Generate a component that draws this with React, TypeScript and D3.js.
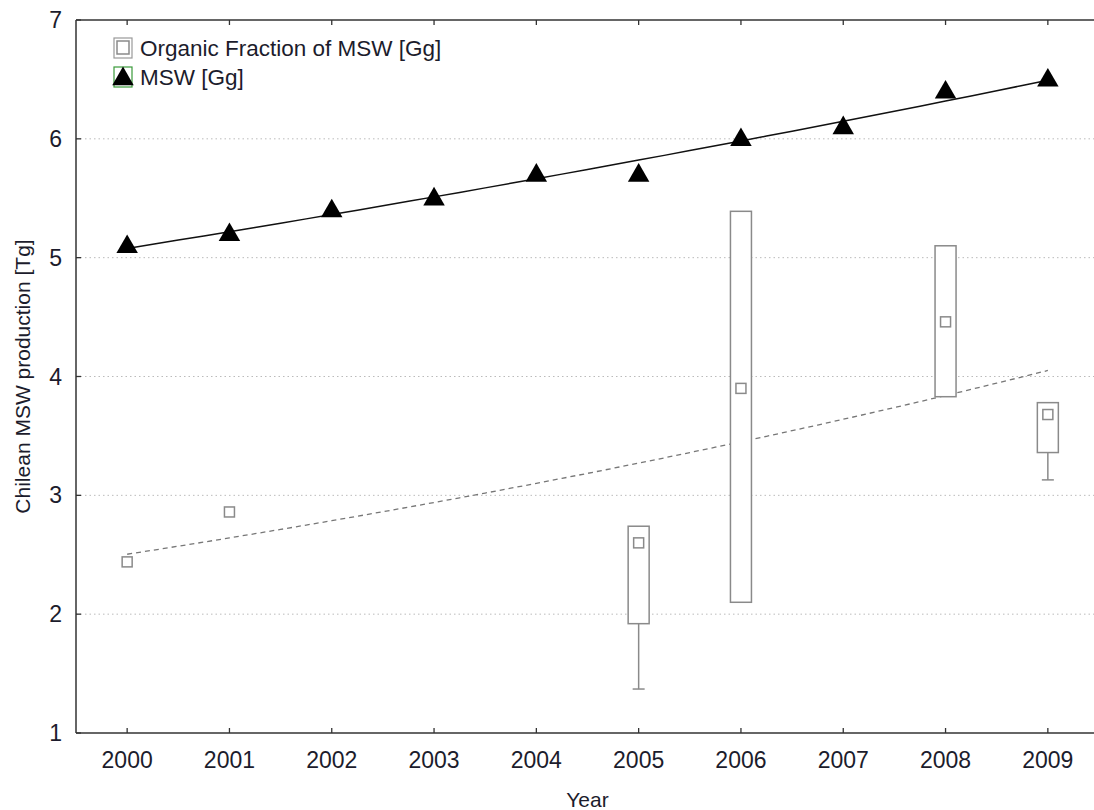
import React from 'react';
import * as d3 from 'd3';

// MSW production per year (black triangles)
const years = [2000, 2001, 2002, 2003, 2004, 2005, 2006, 2007, 2008, 2009];
const mswValues = [5.1, 5.2, 5.4, 5.5, 5.7, 5.7, 6.0, 6.1, 6.4, 6.5];

// Organic fraction: single points
const organicPointYears = [2000, 2001];
const organicPointValues = [2.44, 2.86];

// Organic fraction: box summaries
const boxYears = [2005, 2006, 2008, 2009];
const boxMeans = [2.6, 3.9, 4.46, 3.68];
const boxTops = [2.74, 5.39, 5.1, 3.78];
const boxBottoms = [1.92, 2.1, 3.83, 3.36];
const whiskerLows = [1.37, null, null, 3.13];

const yTicks = [1, 2, 3, 4, 5, 6, 7];
const gridTicks = [2, 3, 4, 5, 6];

const legendLabels = ['Organic Fraction of MSW [Gg]', 'MSW [Gg]'];

// exponential least-squares fit, y = a * exp(b * (x - x0))
function expFit(xs: number[], ys: number[]) {
  const x0 = xs[0];
  const lx = xs.map(x => x - x0);
  const ly = ys.map(y => Math.log(y));
  const mx = d3.mean(lx)!;
  const my = d3.mean(ly)!;
  const sxy = d3.sum(lx, (x, i) => (x - mx) * (ly[i] - my));
  const sxx = d3.sum(lx, x => (x - mx) * (x - mx));
  const b = sxy / sxx;
  const a = my - b * mx;
  return (x: number) => Math.exp(a + b * (x - x0));
}

const W = 1094;
const H = 810;
const margin = { top: 20, right: -5, bottom: 77, left: 76 };
const FONT = 'Liberation Sans, Arial, sans-serif';
const GRAY = '#8a8a8a';
const TXT = '#1c1c2c';

export default function App() {
  const innerW = W - margin.left - margin.right;
  const innerH = H - margin.top - margin.bottom;

  const x = d3.scaleLinear().domain([1999.5, 2009.5]).range([0, innerW]);
  const y = d3.scaleLinear().domain([1, 7]).range([innerH, 0]);

  const mswFit = expFit(years, mswValues);
  const orgX = [...organicPointYears, ...boxYears];
  const orgY = [...organicPointValues, ...boxMeans];
  const orgFit = expFit(orgX, orgY);

  const fitYears = d3.range(2000, 2009.001, 0.25);
  const line = (f: (v: number) => number) =>
    d3.line<number>().x(d => x(d)).y(d => y(f(d)))(fitYears) || '';

  const tri = d3.symbol().type(d3.symbolTriangle).size(200)() || '';
  const boxW = 21;
  const mk = 10;

  return (
    <svg width={W} height={H} style={{ position: 'absolute', left: 0, top: 0, background: '#fff' }}>
      <g transform={`translate(${margin.left},${margin.top})`} fontFamily={FONT}>
        {/* grid */}
        {gridTicks.map(t => (
          <line key={t} x1={0} x2={innerW} y1={y(t)} y2={y(t)}
            stroke="#bbb" strokeWidth={1} strokeDasharray="1.5,3" />
        ))}

        {/* organic trend */}
        <path d={line(orgFit)} fill="none" stroke="#777" strokeWidth={1.3} strokeDasharray="5,4" />

        {/* boxes */}
        {boxYears.map((yr, i) => {
          const cx = x(yr);
          const lo = whiskerLows[i];
          return (
            <g key={yr} stroke={GRAY} strokeWidth={1.5} fill="none">
              {lo !== null && (
                <>
                  <line x1={cx} x2={cx} y1={y(boxBottoms[i])} y2={y(lo)} />
                  <line x1={cx - 6} x2={cx + 6} y1={y(lo)} y2={y(lo)} />
                </>
              )}
              <rect x={cx - boxW / 2} y={y(boxTops[i])} width={boxW}
                height={y(boxBottoms[i]) - y(boxTops[i])} fill="#fff" />
              <rect x={cx - mk / 2} y={y(boxMeans[i]) - mk / 2} width={mk} height={mk} fill="#fff" />
            </g>
          );
        })}
        {organicPointYears.map((yr, i) => (
          <rect key={yr} x={x(yr) - mk / 2} y={y(organicPointValues[i]) - mk / 2}
            width={mk} height={mk} fill="#fff" stroke={GRAY} strokeWidth={1.5} />
        ))}

        {/* MSW trend + triangles */}
        <path d={line(mswFit)} fill="none" stroke="#111" strokeWidth={1.5} />
        {years.map((yr, i) => (
          <path key={yr} d={tri} transform={`translate(${x(yr)},${y(mswValues[i]) + 1})`} fill="#000" />
        ))}

        {/* frame */}
        <line x1={0} x2={innerW} y1={0} y2={0} stroke="#333" strokeWidth={1.5} />
        <line x1={0} x2={innerW} y1={innerH} y2={innerH} stroke="#333" strokeWidth={1.5} />
        <line x1={0} x2={0} y1={0} y2={innerH} stroke="#333" strokeWidth={1.5} />

        {/* x ticks */}
        {years.map(yr => (
          <g key={yr}>
            <line x1={x(yr)} x2={x(yr)} y1={innerH} y2={innerH - 5} stroke="#333" strokeWidth={1.3} />
            <line x1={x(yr)} x2={x(yr)} y1={0} y2={5} stroke="#333" strokeWidth={1.3} />
            <text x={x(yr)} y={innerH + 35} textAnchor="middle" fontSize={23} fill={TXT}>{yr}</text>
          </g>
        ))}

        {/* y ticks */}
        {yTicks.map(t => (
          <g key={t}>
            <line x1={0} x2={5} y1={y(t)} y2={y(t)} stroke="#333" strokeWidth={1.3} />
            <text x={-14} y={y(t) + 8} textAnchor="end" fontSize={23} fill={TXT}>{t}</text>
          </g>
        ))}

        {/* axis titles */}
        <text x={x(2004.5)} y={innerH + 74} textAnchor="middle" fontSize={21} fill={TXT}>Year</text>
        <text transform={`translate(${-46},${innerH / 2}) rotate(-90)`} textAnchor="middle"
          fontSize={21} fill={TXT}>Chilean MSW production [Tg]</text>

        {/* legend */}
        <g transform="translate(38,18)">
          <rect x={0} y={0} width={18} height={20} fill="#fff" stroke="#999" strokeWidth={1.2} />
          <rect x={3} y={3} width={12} height={13} fill="#fff" stroke={GRAY} strokeWidth={1.5} />
          <text x={26} y={18} fontSize={22.5} fill={TXT}>{legendLabels[0]}</text>
          <rect x={0} y={29} width={18} height={20} fill="#fff" stroke="#3a9a3a" strokeWidth={1.2} />
          <path d={tri} transform="translate(9,41)" fill="#000" />
          <text x={26} y={47} fontSize={22.5} fill={TXT}>{legendLabels[1]}</text>
        </g>
      </g>
    </svg>
  );
}
